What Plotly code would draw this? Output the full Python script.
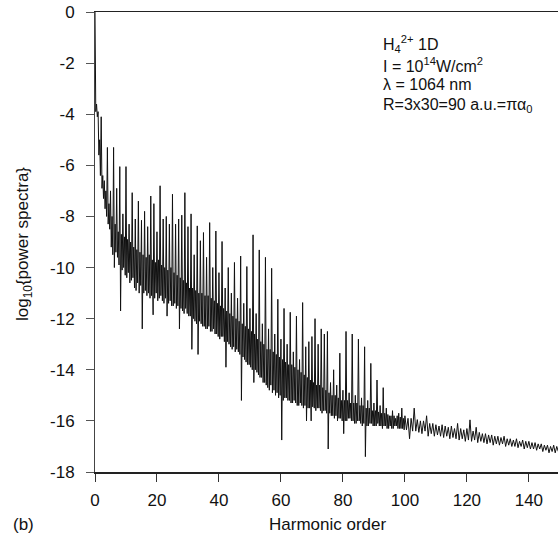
import plotly.graph_objects as go

# log10(power spectra).
# Orders 0-100: four samples per harmonic order (every 0.25)
power_00_10 = [0.0, -3.9, -3.6, -4.1,   -3.9, -5.6, -5.0, -6.4,   -4.1, -6.9, -6.4, -7.3,
               -6.6, -7.7, -7.0, -8.0,  -5.3, -8.3, -7.5, -8.5,   -7.0, -9.2, -8.0, -9.5,
               -5.3, -10.0, -8.3, -9.4, -6.9, -9.6, -8.6, -9.9,   -6.05, -11.7, -8.7, -10.1,
               -7.9, -10.0, -8.8, -10.3]
power_10_20 = [-6.05, -10.4, -8.9, -10.2, -8.3, -10.6, -9.0, -10.5, -7.07, -10.4, -9.2, -10.8,
               -8.1, -10.9, -9.3, -10.6,  -7.4, -11.0, -9.4, -10.7,  -8.15, -12.4, -9.5, -11.0,
               -7.8, -10.9, -9.6, -11.1,  -8.4, -11.0, -9.5, -11.2,  -7.2, -11.1, -9.7, -11.85,
               -7.5, -11.2, -9.8, -11.0]
power_20_30 = [-8.6, -11.3, -9.7, -11.2,  -6.8, -11.1, -9.9, -11.3,  -8.1, -11.4, -10.0, -11.2,
               -8.0, -11.9, -10.1, -11.4, -8.3, -11.3, -10.0, -11.5, -7.13, -11.5, -10.2, -11.4,
               -8.3, -11.6, -10.3, -11.5, -8.1, -12.4, -10.4, -11.6, -7.95, -11.7, -10.5, -11.8,
               -7.07, -11.6, -10.6, -11.8]
power_30_40 = [-8.4, -11.9, -10.8, -11.9, -7.9, -13.2, -10.8, -12.0, -9.5, -12.1, -10.9, -12.2,
               -8.37, -13.4, -11.0, -12.1, -8.95, -12.2, -11.0, -12.3, -8.63, -12.3, -11.1, -12.4,
               -9.6, -12.4, -11.1, -12.3, -8.24, -12.5, -11.2, -12.5, -10.0, -12.4, -11.3, -12.6,
               -8.57, -12.6, -11.4, -12.7]
power_40_50 = [-10.2, -12.8, -11.5, -12.7, -8.98, -12.7, -11.6, -12.9, -10.8, -13.9, -11.7, -12.9,
               -10.0, -13.0, -11.8, -13.1, -11.0, -13.2, -11.9, -13.1, -9.8, -13.3, -12.0, -13.2,
               -11.2, -13.3, -12.1, -13.4, -9.55, -15.2, -12.2, -13.5, -11.4, -13.6, -12.3, -13.7,
               -9.96, -13.8, -12.4, -13.8]
power_50_60 = [-11.6, -13.9, -12.5, -14.0, -8.72, -14.5, -12.6, -14.0, -11.8, -14.1, -12.8, -14.2,
               -9.31, -14.3, -12.9, -14.3, -12.2, -14.5, -13.0, -14.5, -9.6, -14.6, -13.2, -14.7,
               -12.4, -14.8, -13.2, -14.6, -10.03, -14.9, -13.3, -14.8, -12.6, -15.0, -13.4, -14.9,
               -11.24, -15.1, -13.5, -15.0]
power_60_70 = [-12.8, -16.75, -13.6, -15.2, -11.6, -15.1, -13.7, -15.1, -13.0, -15.2, -13.8, -15.2,
               -11.75, -15.3, -13.8, -15.3, -13.3, -15.2, -13.9, -15.3, -11.9, -15.4, -14.0, -15.4,
               -13.6, -15.3, -14.1, -15.4, -11.37, -15.5, -14.2, -15.4, -13.1, -16.0, -14.3, -15.5,
               -12.9, -15.5, -14.4, -16.0]
power_70_80 = [-12.7, -15.45, -14.5, -15.5, -12.0, -15.6, -14.6, -15.5, -13.0, -15.5, -14.6, -15.6,
               -12.4, -15.7, -14.7, -15.6, -12.6, -15.6, -14.8, -15.7, -12.5, -17.1, -14.9, -15.7,
               -14.5, -15.8, -15.0, -15.8, -14.0, -15.9, -15.0, -15.8, -14.6, -16.0, -15.1, -15.9,
               -13.35, -15.9, -15.2, -16.0]
power_80_90 = [-14.8, -16.5, -15.2, -16.0, -12.5, -16.0, -15.2, -15.9, -14.9, -15.9, -15.3, -16.0,
               -12.6, -16.0, -15.3, -16.1, -15.0, -16.1, -15.3, -16.0, -12.8, -16.0, -15.4, -16.1,
               -15.1, -16.2, -15.4, -16.1, -13.1, -17.4, -15.5, -16.2, -15.2, -16.2, -15.5, -16.1,
               -13.75, -16.1, -15.6, -16.2]
power_90_100 = [-15.3, -16.2, -15.6, -16.2, -14.4, -16.1, -15.65, -16.2, -15.4, -16.2, -15.7, -16.3,
                -14.7, -16.2, -15.7, -16.2, -15.5, -16.3, -15.75, -16.3, -15.8, -16.2, -15.8, -16.3,
                -15.6, -16.3, -15.8, -16.2, -15.9, -16.2, -15.8, -16.3, -15.7, -16.3, -15.85, -16.3,
                -15.5, -16.3, -15.9, -16.35]
# Orders 100-150: two samples per harmonic order (every 0.5)
power_100_110 = [-15.8, -16.35, -15.9, -16.7, -15.9, -16.4, -15.5, -16.4, -15.95, -16.45,
                 -16.0, -16.5, -16.0, -16.4, -15.8, -16.6, -16.1, -16.5, -16.1, -16.6]
power_110_120 = [-16.15, -16.55, -16.2, -16.6, -16.15, -16.65, -16.2, -16.6, -16.25, -16.7,
                 -16.2, -16.65, -16.3, -16.7, -16.1, -16.75, -16.3, -16.7, -16.35, -16.8]
power_120_130 = [-16.3, -16.75, -15.96, -16.8, -16.4, -16.75, -16.25, -16.85, -16.45, -16.8,
                 -16.5, -16.85, -16.5, -16.9, -16.55, -16.85, -16.55, -16.95, -16.6, -16.9]
power_130_140 = [-16.6, -16.95, -16.65, -16.9, -16.6, -17.0, -16.7, -16.95, -16.7, -17.0,
                 -16.75, -17.0, -16.7, -17.05, -16.8, -17.0, -16.75, -17.1, -16.8, -17.05]
power_140_150 = [-16.8, -17.1, -16.85, -17.1, -16.85, -17.15, -16.9, -17.1, -16.9, -17.2,
                 -16.95, -17.15, -16.95, -17.25, -17.0, -17.2, -16.95, -17.25, -17.0, -17.2]

fine_part = (power_00_10 + power_10_20 + power_20_30 + power_30_40 + power_40_50 +
             power_50_60 + power_60_70 + power_70_80 + power_80_90 + power_90_100)
coarse_part = (power_100_110 + power_110_120 + power_120_130 + power_130_140 + power_140_150)

log_power = fine_part + coarse_part
harmonic_order = ([i * 0.25 for i in range(len(fine_part))] +
                  [100 + i * 0.5 for i in range(len(coarse_part))])

x_ticks = [0, 20, 40, 60, 80, 100, 120, 140]
y_ticks = [0, -2, -4, -6, -8, -10, -12, -14, -16, -18]
y_tick_text = ["0", "-2", "-4", "-6", "-8", "-10", "-12", "-14", "-16", "-18"]

FONT = "Liberation Sans, Arial, Helvetica, sans-serif"

fig = go.Figure()
fig.add_trace(go.Scatter(
    x=harmonic_order, y=log_power, mode="lines",
    line=dict(color="#111111", width=1), showlegend=False, hoverinfo="skip"))

W, H = 558, 543
L, R, T, B = 95, 0, 12, 71
pw, ph = W - L - R, H - T - B


def px(xp):
    return (xp - L) / pw


def py(yp):
    return (H - B - yp) / ph


fig.update_layout(
    width=W, height=H, margin=dict(l=L, r=R, t=T, b=B, autoexpand=False),
    paper_bgcolor="white", plot_bgcolor="white",
    font=dict(family=FONT, size=17, color="#111111"),
    hovermode=False,
    xaxis=dict(range=[0, 149.4], tickvals=x_ticks, ticks="outside", ticklen=8,
               tickwidth=1, tickcolor="#333", showline=True, linecolor="#222",
               linewidth=1.5, mirror=True, showgrid=False, zeroline=False,
               ticklabelstandoff=4, ticklabeloverflow="allow"),
    yaxis=dict(range=[-18, 0], tickvals=y_ticks, ticktext=y_tick_text,
               ticks="outside", ticklen=8,
               tickwidth=1, tickcolor="#555", showline=True, linecolor="#444",
               linewidth=1, showgrid=False, zeroline=False,
               ticklabelstandoff=8, ticklabeloverflow="allow"),
)

ann = [
    dict(text="H<sub>4</sub><sup>2+</sup> 1D", x=px(381), y=py(44)),
    dict(text="I = 10<sup>14</sup>W/cm<sup>2</sup>", x=px(381), y=py(65)),
    dict(text="λ = 1064 nm", x=px(381), y=py(85)),
    dict(text="R=3x30=90 a.u.=πα<sub>0</sub>", x=px(381), y=py(105)),
]
for a in ann:
    fig.add_annotation(xref="paper", yref="paper", xanchor="left", yanchor="middle",
                       showarrow=False, font=dict(size=16), **a)

fig.add_annotation(text="Harmonic order", xref="paper", yref="paper",
                   x=px(327), y=py(524), xanchor="center", yanchor="middle",
                   showarrow=False)
fig.add_annotation(text="(b)", xref="paper", yref="paper",
                   x=px(23), y=py(524), xanchor="center", yanchor="middle",
                   showarrow=False)
fig.add_annotation(text="log<sub>10</sub>{power spectra}", xref="paper", yref="paper",
                   x=px(24), y=py(244), xanchor="center", yanchor="middle",
                   textangle=-90, showarrow=False, font=dict(size=17))

fig.write_html("out.html",
               config={"displayModeBar": False, "staticPlot": True},
               post_script="document.body.style.margin='0';"
                           "document.body.style.overflow='hidden';")
